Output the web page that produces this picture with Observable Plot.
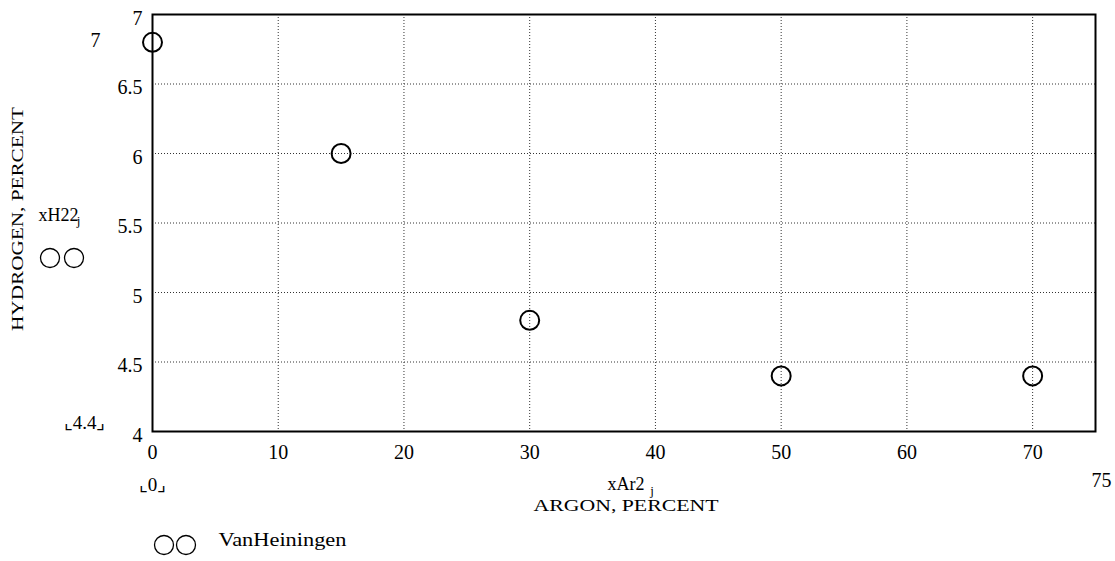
<!DOCTYPE html>
<html>
<head>
<meta charset="utf-8">
<script src="https://cdn.jsdelivr.net/npm/d3@7"></script>
<script src="https://cdn.jsdelivr.net/npm/@observablehq/plot@0.6"></script>
<style>
  html, body { margin: 0; padding: 0; background: #fff; }
  #chart { width: 1115px; height: 561px; }
</style>
</head>
<body>
<div id="chart"></div>
<script>
// Data
const argon = [0, 15, 30, 50, 70];
const hydrogen = [6.8, 6.0, 4.8, 4.4, 4.4];
const xTicks = [0, 10, 20, 30, 40, 50, 60, 70];
const yTicks = [4, 4.5, 5, 5.5, 6, 6.5, 7];
const xGrid = [10, 20, 30, 40, 50, 60, 70];
const yGrid = [4.5, 5, 5.5, 6, 6.5];
const xDomain = [0, 75];
const yDomain = [4, 7];
const seriesName = "VanHeiningen";
const yTitle = "HYDROGEN, PERCENT";
const xTitle = "ARGON, PERCENT";
const yVar = "xH22";
const xVar = "xAr2";
const subscript = "j";
const yMinLabel = "\u231E4.4\u231F";
const xMinLabel = "\u231E0\u231F";
const yMaxLabel = "7";
const xMaxLabel = "75";

const serif = "'Liberation Serif', 'Times New Roman', serif";
const gridStyle = {stroke: "#333", strokeDasharray: "1,2", strokeOpacity: 1, strokeWidth: 1};
const T = {textAnchor: "middle", fill: "#000"};

const chart = Plot.plot({
  width: 1115,
  height: 561,
  marginLeft: 152,
  marginRight: 20,
  marginTop: 14,
  marginBottom: 130,
  style: {fontFamily: serif, fontSize: "20px", background: "#fff", color: "#000"},
  x: {domain: xDomain, label: null},
  y: {domain: yDomain, label: null},
  marks: [
    Plot.gridX(xGrid, gridStyle),
    Plot.gridY(yGrid, gridStyle),
    Plot.axisX(xTicks, {tickSize: 0, tickPadding: 13, label: null, fontSize: 20, tickFormat: d => String(d)}),
    Plot.axisY(yTicks, {tickSize: 0, tickPadding: 10, dy: 4, label: null, fontSize: 20, tickFormat: d => String(d)}),
    Plot.frame({stroke: "#000", strokeWidth: 2}),
    Plot.dot(argon, {x: argon, y: hydrogen, r: 9.5, stroke: "#000", strokeWidth: 2, fill: "none"}),
    // Mathcad-style placeholder labels
    Plot.text([yMaxLabel], {...T, frameAnchor: "top-left", dx: -57, dy: 18, fontSize: 20}),
    Plot.text([yVar], {...T, frameAnchor: "left", dx: -94, dy: -8, fontSize: 18}),
    Plot.text([subscript], {...T, frameAnchor: "left", dx: -74, dy: -2, fontSize: 13}),
    Plot.text([yTitle], {...T, frameAnchor: "left", dx: -135, dy: -4, rotate: -90, fontSize: 17}),
    Plot.text([yMinLabel], {...T, frameAnchor: "bottom-left", dx: -68, dy: -3, fontSize: 19}),
    Plot.text([xMinLabel], {...T, frameAnchor: "bottom-left", dx: 0, dy: 59, fontSize: 19}),
    Plot.text([xVar], {...T, frameAnchor: "bottom", dx: 2, dy: 58, fontSize: 18}),
    Plot.text([subscript], {...T, frameAnchor: "bottom", dx: 28, dy: 63, fontSize: 13}),
    Plot.text([xTitle], {...T, frameAnchor: "bottom", dx: 2, dy: 79, fontSize: 17}),
    Plot.text([xMaxLabel], {...T, frameAnchor: "bottom-right", dx: 6, dy: 55, fontSize: 20}),
    Plot.text([seriesName], {fill: "#000", frameAnchor: "bottom-left", dx: 66, dy: 114, textAnchor: "start", fontSize: 18})
  ]
});

// Legend glyph circles placed next to the Mathcad labels
const svg = d3.select(chart);
const glyphs = [[50, 258], [74, 258], [164, 545], [186, 545]];
svg.append("g").attr("fill", "none").attr("stroke", "#000").attr("stroke-width", 1.3)
  .selectAll("circle").data(glyphs).join("circle")
  .attr("cx", d => d[0]).attr("cy", d => d[1]).attr("r", 9.5);

// stretch titles like the wide typeface of the scanned original
const fit = (label, len) => svg.selectAll("text").filter(function() { return this.textContent === label; })
  .attr("textLength", len).attr("lengthAdjust", "spacingAndGlyphs");
fit(yTitle, 224);
fit(xTitle, 185);
fit(seriesName, 128);

document.getElementById("chart").append(chart);
</script>
</body>
</html>
